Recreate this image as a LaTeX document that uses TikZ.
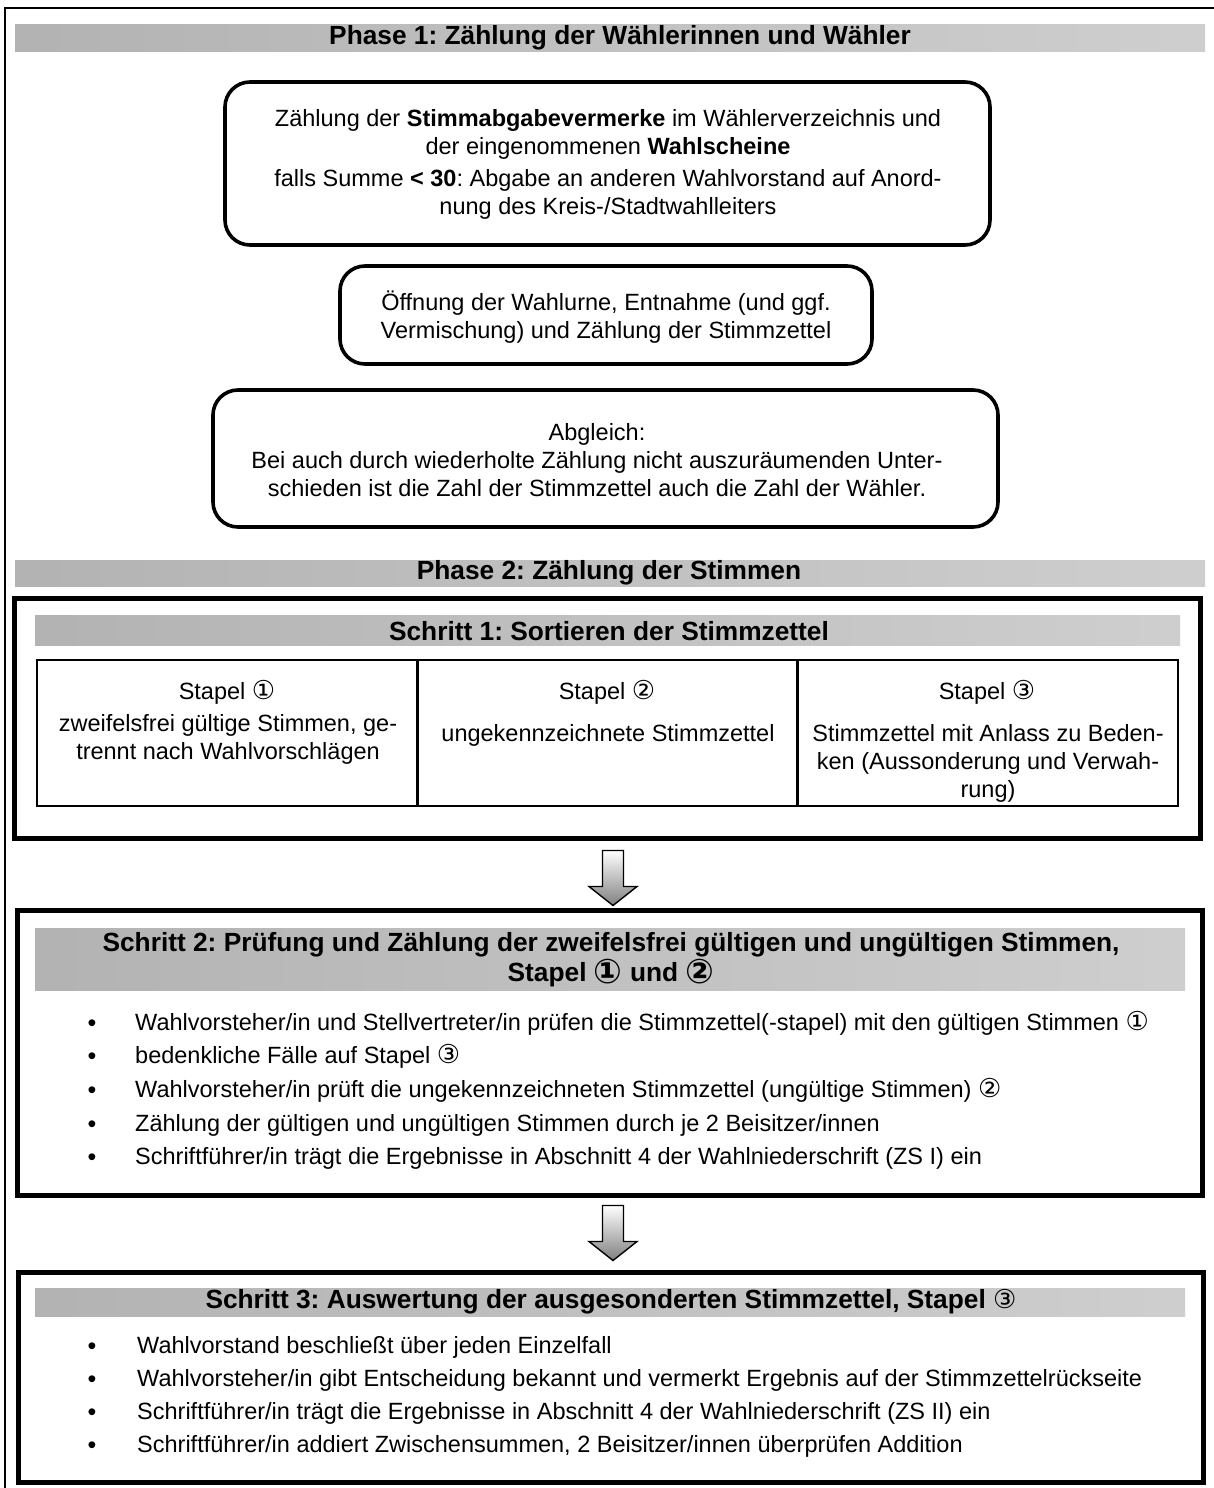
\documentclass[tikz,border=0pt]{standalone}
\usepackage{fontspec}
\setmainfont{Liberation Sans}
\newfontfamily\symfont{DejaVu Sans}
\usetikzlibrary{calc}
\newcommand\cnum[1]{{\symfont\mdseries\fontsize{26}{26}\selectfont #1}}
\newcommand\cnumb[1]{{\symfont\bfseries\fontsize{34}{34}\selectfont\raisebox{-2pt}{#1}}}
\frenchspacing
\begin{document}
\begin{tikzpicture}[x=1pt,y=-1pt,
  body/.style={font=\fontsize{23.5}{28}\selectfont, align=center, inner sep=0pt},
  hdr/.style={font=\fontsize{26.3}{30}\selectfont\bfseries, align=center, inner sep=0pt},
  rbox/.style={draw, line width=3.6pt, rounded corners=25pt, inner sep=0pt},
  sbox/.style={draw, line width=5pt, inner sep=0pt},
  cell/.style={draw, line width=1.6pt, inner sep=0pt, minimum width=381pt, minimum height=146pt},
  band/.style={left color=black!30, middle color=black!15, right color=black!19, inner sep=0pt},
  bul/.style={font=\fontsize{25}{28}\selectfont, anchor=base, inner sep=0pt},
  btxt/.style={font=\fontsize{23.5}{28}\selectfont, anchor=base west, inner sep=0pt},
  blockarrow/.pic={\shade[top color=white, bottom color=black!50, draw=black, line width=1.4pt, line join=miter]
      (-10.5,0) -- (10.5,0) -- (10.5,36) -- (24,36) -- (0,55) -- (-24,36) -- (-10.5,36) -- cycle;}
]
\useasboundingbox (0,0) rectangle (1214,1488);
\fill[white] (0,0) rectangle (1214,1488);
% page border
\draw[line width=2pt] (5,1488) -- (5,8) -- (1214,8);

% ---------- Phase 1 ----------
\node[band, minimum width=1190pt, minimum height=27pt] (p1) at (610,38.5) {};
\node[hdr] (p1t) at (620,38) {Phase 1: Zählung der Wählerinnen und Wähler};

\node[rbox, minimum width=765pt, minimum height=163pt] (b1) at (607.5,163.5) {};
\node[body] (b1t) at (608,164) {Zählung der \textbf{Stimmabgabevermerke} im Wählerverzeichnis und\\
der eingenommenen \textbf{Wahlscheine}\\[4pt]
falls Summe \textbf{< 30}: Abgabe an anderen Wahlvorstand auf Anord-\\
nung des Kreis-/Stadtwahlleiters};

\node[rbox, minimum width=532pt, minimum height=98pt] (b2) at (606,315) {};
\node[body] (b2t) at (606,317) {Öffnung der Wahlurne, Entnahme (und ggf.\\Vermischung) und Zählung der Stimmzettel};

\node[rbox, minimum width=785pt, minimum height=137pt] (b3) at (605.5,458.5) {};
\node[body] (b3t) at (597,460) {Abgleich:\\Bei auch durch wiederholte Zählung nicht auszuräumenden Unter-\\schieden ist die Zahl der Stimmzettel auch die Zahl der Wähler.};

% ---------- Phase 2 ----------
\node[band, minimum width=1190pt, minimum height=26pt] (p2) at (610,573) {};
\node[hdr] (p2t) at (609,573) {Phase 2: Zählung der Stimmen};

% Schritt 1
\node[sbox, minimum width=1186pt, minimum height=240pt] (s1) at (607,718) {};
\node[band, minimum width=1145pt, minimum height=30pt] (s1b) at (607.5,630) {};
\node[hdr] (s1t) at (609,631) {Schritt 1: Sortieren der Stimmzettel};

\node[cell] (c1) at (227.5,733) {};
\node[cell] (c2) at (607.5,733) {};
\node[cell] (c3) at (987.5,733) {};
\node[body] (c1h) at (227,692) {Stapel \cnum{①}};
\node[body] (c2h) at (607,692) {Stapel \cnum{②}};
\node[body] (c3h) at (987,692) {Stapel \cnum{③}};
\node[body] (c1t) at (228,739) {zweifelsfrei gültige Stimmen, ge-\\trennt nach Wahlvorschlägen};
\node[body] (c2t) at (608,735) {ungekennzeichnete Stimmzettel};
\node[body] (c3t) at (988,763) {Stimmzettel mit Anlass zu Beden-\\ken (Aussonderung und Verwah-\\rung)};

% arrow 1
\path (s1.south) ++(6,10) pic {blockarrow};

% Schritt 2
\node[sbox, minimum width=1185pt, minimum height=285pt] (s2) at (609.5,1052.5) {};
\node[band, minimum width=1150pt, minimum height=62pt] (s2b) at (610,959) {};
\node[hdr] (s2t) at (611,960) {Schritt 2: Prüfung und Zählung der zweifelsfrei gültigen und ungültigen Stimmen,\\Stapel \cnumb{①} und \cnumb{②}};

\foreach \yy/\tt [count=\i] in {
  1023/{Wahlvorsteher/in und Stellvertreter/in prüfen die Stimmzettel(-stapel) mit den gültigen Stimmen \cnum{①}},
  1056/{bedenkliche Fälle auf Stapel \cnum{③}},
  1090/{Wahlvorsteher/in prüft die ungekennzeichneten Stimmzettel (ungültige Stimmen) \cnum{②}},
  1124/{Zählung der gültigen und ungültigen Stimmen durch je 2 Beisitzer/innen},
  1157/{Schriftführer/in trägt die Ergebnisse in Abschnitt 4 der Wahlniederschrift (ZS I) ein}}{
  \node[bul] (sb2-\i) at (92,\yy+8) {•};
  \node[btxt] (st2-\i) at (135,\yy+7) {\tt};
}

% arrow 2
\path (s2.south) ++(3.5,8) pic {blockarrow};

% Schritt 3
\node[sbox, minimum width=1185pt, minimum height=210pt] (s3) at (610.5,1377) {};
\node[band, minimum width=1150pt, minimum height=28pt] (s3b) at (610,1302) {};
\node[hdr] (s3t) at (611,1302) {Schritt 3: Auswertung der ausgesonderten Stimmzettel, Stapel \cnum{③}};

\foreach \yy/\tt [count=\i] in {
  1346/{Wahlvorstand beschließt über jeden Einzelfall},
  1379/{Wahlvorsteher/in gibt Entscheidung bekannt und vermerkt Ergebnis auf der Stimmzettelrückseite},
  1412/{Schriftführer/in trägt die Ergebnisse in Abschnitt 4 der Wahlniederschrift (ZS II) ein},
  1445/{Schriftführer/in addiert Zwischensummen, 2 Beisitzer/innen überprüfen Addition}}{
  \node[bul] (sb3-\i) at (92,\yy+8) {•};
  \node[btxt] (st3-\i) at (137,\yy+7) {\tt};
}
\end{tikzpicture}
\end{document}
